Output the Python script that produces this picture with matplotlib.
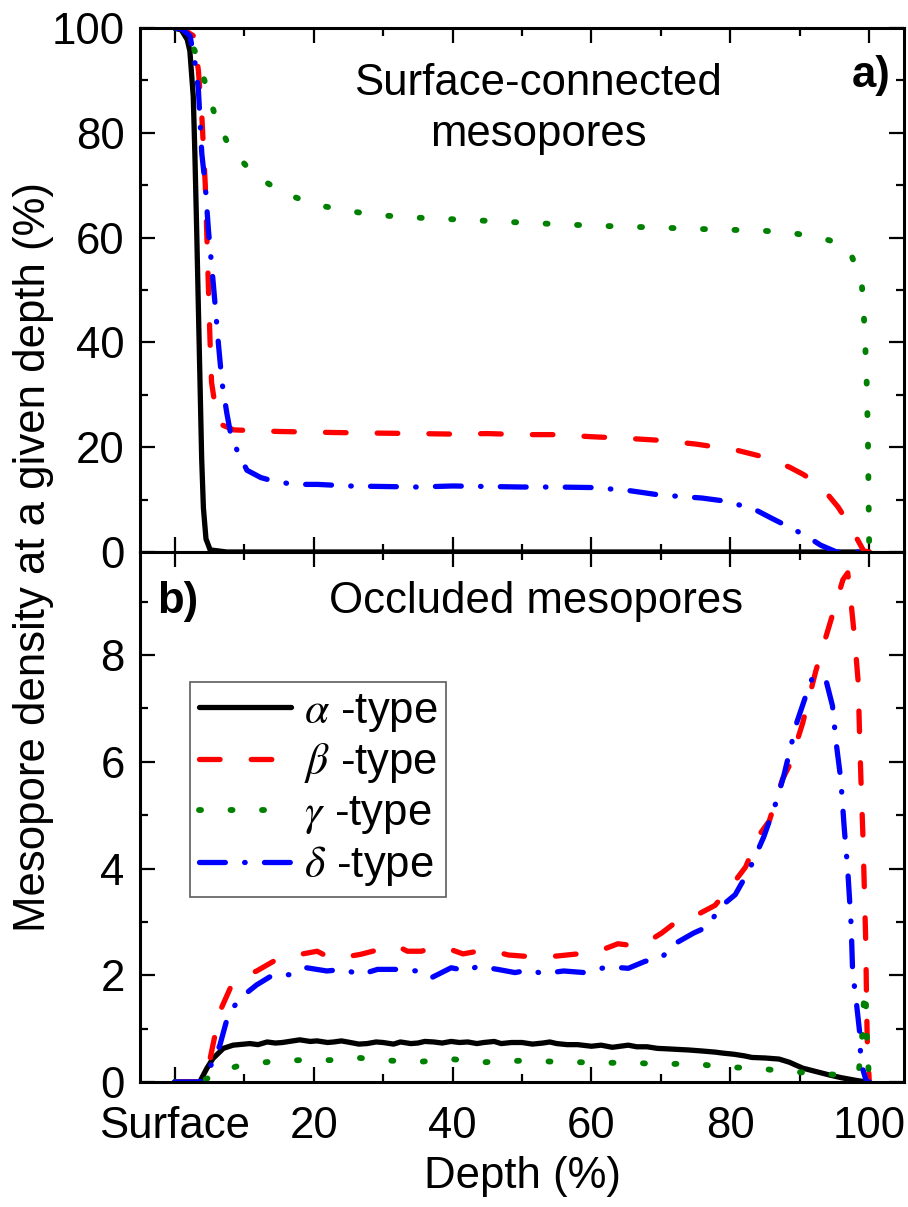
import matplotlib
matplotlib.use("Agg")
import matplotlib.pyplot as plt
from matplotlib.ticker import MultipleLocator, FixedLocator, FixedFormatter

plt.rcParams['font.family'] = ['Liberation Sans', 'DejaVu Sans']
plt.rcParams['mathtext.fontset'] = 'stix'

# ---------------- data: top panel (surface-connected) ----------------
top_alpha_x = [0, 0.97, 1.8, 2.18, 2.67, 2.9, 3.16, 3.4, 3.64, 3.88, 4.13, 4.5, 5.1, 7.5, 20, 40, 60, 80, 100]
top_alpha_y = [100, 99.6, 97.8, 95.6, 86.9, 76, 61.5, 46.9, 32.4, 17.8, 8.4, 2.5, 0.4, 0, 0, 0, 0, 0, 0]

top_beta_x = [0, 1.2, 2.7, 3.4, 3.9, 4.4, 4.6, 4.85, 5.1, 5.3, 5.8, 6.55, 8.5, 15, 23, 28.5, 35, 40, 45, 50,
              55, 60, 65, 70, 75, 80.7, 84.9, 88.5, 90.5, 92.6, 94, 95.5, 97, 98, 99.2, 100]
top_beta_y = [100, 99.8, 98.5, 92, 83.3, 70, 61.5, 50.5, 39.6, 32.4, 28, 24.4, 23.3, 23, 22.8, 22.7, 22.6, 22.5, 22.6, 22.4,
              22.4, 22, 21.7, 21.3, 20.6, 19.5, 18.1, 16.2, 14.8, 13, 11, 8.6, 5.5, 3.1, 0.2, 0]

top_gamma_x = [0, 1.5, 2.9, 4.4, 5.8, 7.8, 11.4, 15.8, 20.6, 25, 29, 35, 40, 45, 51, 60, 70, 79, 83.6, 88.3,
               92.9, 95.5, 97.2, 98.9, 99.2, 99.4, 99.6, 99.7, 99.8, 99.85, 99.9, 99.95, 100]
top_gamma_y = [100, 99.5, 95.6, 89.5, 83.3, 77.5, 72, 68.4, 66.2, 65.1, 64.3, 63.8, 63.5, 63.2, 62.8, 62.3, 61.9, 61.5, 61.4, 61,
               60, 59, 57.4, 51.6, 45.7, 40, 34, 28, 22.4, 16.6, 10.8, 4.6, 0]

top_delta_x = [0, 1, 2.2, 2.9, 3.4, 3.9, 4.4, 4.85, 5.6, 6.3, 6.8, 7.5, 8, 9, 10.4, 12.4, 14.3, 17.2, 20.6, 25,
               30, 35, 40, 45, 50, 55, 60, 65, 69.7, 75.9, 79.3, 83.4, 86, 88.7, 91, 93, 95.3, 100]
top_delta_y = [100, 99.8, 98.5, 93.5, 88.4, 76, 70, 61.5, 50.5, 39.6, 32.4, 26.5, 22.9, 19.3, 15.6, 14.2, 13.5, 12.9, 12.9, 12.6,
               12.5, 12.4, 12.6, 12.5, 12.4, 12.4, 12.3, 11.8, 10.9, 10.3, 9.7, 8.2, 6.4, 4.6, 3, 1.3, 0, 0]

# ---------------- data: bottom panel (occluded) ----------------
bot_alpha_x = [0, 3.6, 4.6, 5.5, 7, 8.4, 10.8, 12, 13.3, 14.5, 15.5, 17, 18, 19.5, 20.5, 22, 22.9, 24, 25.3, 26.5,
               27.7, 29, 30, 31.5, 32.5, 34, 35, 36, 37.3, 38.5, 39.8, 41, 42.2, 43.5, 44.5, 46, 47, 48.5, 50, 51.5,
               53, 54, 55, 56.5, 58, 60, 61.4, 63, 65.3, 66.5, 68, 69.5, 71.1, 72.5, 74, 76, 77.8, 79, 80.5, 82,
               83.1, 85, 87, 88.5, 90.4, 92.5, 94.3, 96, 98.1, 99.6, 100]
bot_alpha_y = [0, 0, 0.25, 0.44, 0.63, 0.69, 0.72, 0.7, 0.75, 0.73, 0.74, 0.77, 0.79, 0.76, 0.77, 0.74, 0.75, 0.77, 0.74, 0.71,
               0.72, 0.75, 0.74, 0.71, 0.75, 0.72, 0.73, 0.76, 0.75, 0.73, 0.76, 0.74, 0.75, 0.72, 0.74, 0.76, 0.72, 0.74, 0.74, 0.71,
               0.73, 0.75, 0.72, 0.7, 0.7, 0.67, 0.69, 0.65, 0.69, 0.66, 0.66, 0.63, 0.62, 0.61, 0.6, 0.58, 0.56, 0.54, 0.52, 0.49,
               0.46, 0.45, 0.43, 0.37, 0.26, 0.19, 0.13, 0.08, 0.03, 0, 0]

bot_beta_x = [0, 3.6, 4.5, 5.1, 5.8, 6.7, 8.2, 10, 11.8, 14.2, 16, 18, 20.5, 22, 23.9, 26.7, 28.5, 30.6, 32, 33.5,
              35.5, 37.3, 39.8, 41.5, 43.6, 46, 48, 50, 52, 55, 58, 60, 62, 63.8, 65.7, 68, 70.1, 72, 74, 75.9,
              77.8, 79, 80.7, 82.2, 84.1, 85.6, 87.5, 88.5, 90.4, 92.3, 93.8, 94.7, 96.2, 96.9, 97.4, 97.9, 98.4, 98.6, 98.8, 99.1,
              99.3, 99.5, 99.6, 99.7, 100]
bot_beta_y = [0, 0, 0.2, 0.44, 0.88, 1.38, 1.82, 1.98, 2.08, 2.26, 2.3, 2.39, 2.45, 2.35, 2.33, 2.39, 2.45, 2.52, 2.55, 2.45,
              2.45, 2.52, 2.48, 2.4, 2.45, 2.45, 2.38, 2.36, 2.34, 2.36, 2.4, 2.42, 2.5, 2.59, 2.56, 2.62, 2.79, 2.98, 3.05, 3.18,
              3.31, 3.5, 3.77, 4.03, 4.62, 4.89, 5.67, 5.93, 6.72, 7.7, 8.36, 8.75, 9.41, 9.54, 8.95, 8.3, 7.5, 6.52, 5.67, 4.56,
              3.57, 2.59, 1.6, 0.82, 0]

bot_gamma_x = [0, 3.6, 5.1, 7, 9.4, 13.7, 18, 22.4, 26.7, 31.1, 35.4, 39.8, 44.3, 50, 55, 61.9, 66.2, 70.1, 74.4, 79,
               83.6, 88, 92.6, 96.9, 98.5, 99.0, 99.3, 99.5, 99.6, 99.8, 100]
bot_gamma_y = [0, 0, 0.09, 0.22, 0.31, 0.38, 0.41, 0.41, 0.45, 0.4, 0.38, 0.43, 0.37, 0.4, 0.38, 0.36, 0.36, 0.33, 0.35, 0.28,
               0.26, 0.2, 0.16, 0.12, 0.2, 0.9, 1.74, 1.6, 1.0, 0.43, 0]

bot_delta_x = [0, 3.6, 4.5, 5.5, 6.5, 7.7, 9.4, 11.8, 14.2, 16.6, 19, 21.9, 24.3, 26.7, 29.2, 32, 34.9, 36.9, 39.8, 42.2,
               43.6, 46.5, 49, 51, 53, 56, 59, 62.4, 65.3, 67.7, 70.1, 72, 74.7, 76.9, 78.3, 80.7, 82.7, 84.8, 86.5, 87.7,
               88.9, 89.6, 90.9, 91.8, 93, 93.8, 94.7, 95.2, 95.9, 96.4, 96.9, 97.4, 97.6, 98.1, 98.6, 98.8, 99.6, 100]
bot_delta_y = [0, 0, 0.15, 0.38, 0.69, 1.26, 1.57, 1.82, 2.01, 2.01, 2.14, 2.08, 2.11, 2.01, 2.11, 2.11, 2.08, 1.95, 2.14, 2.08,
               2.17, 2.11, 2.05, 2.1, 2.03, 2.08, 2.05, 2.16, 2.13, 2.26, 2.33, 2.59, 2.79, 2.92, 3.25, 3.51, 3.97, 4.59, 5.21, 5.74,
               6.39, 6.75, 7.25, 7.57, 7.6, 7.51, 7.05, 6.39, 5.67, 4.75, 3.97, 2.92, 2.07, 1.54, 0.95, 0.36, 0, 0]

labels = [r'$\alpha$ -type', r'$\beta$ -type', r'$\gamma$ -type', r'$\delta$ -type']
x_tick_labels = ['Surface', '20', '40', '60', '80', '100']

# ---------------- styles ----------------
FS = 31.5
LW = 3.8
styles = [
    dict(color='black', lw=LW, linestyle='-', solid_capstyle='round'),
    dict(color='#ff0000', lw=LW, dashes=(3.9, 5.9), dash_capstyle='round'),
    dict(color='#008000', lw=4.2, dashes=(0.35, 5.05), dash_capstyle='round'),
    dict(color='#0000ff', lw=LW, dashes=(4.9, 3.65, 0.1, 3.65), dash_capstyle='round'),
]

fig = plt.figure(figsize=(9.08, 12.07), dpi=100)
L, R = 140 / 908, 904 / 908
top_y0 = 1 - 552 / 1207
top_y1 = 1 - 28 / 1207
bot_y0 = 1 - 1082 / 1207
ax1 = fig.add_axes([L, top_y0, R - L, top_y1 - top_y0])
ax2 = fig.add_axes([L, bot_y0, R - L, top_y0 - bot_y0])

top_data = [(top_alpha_x, top_alpha_y), (top_beta_x, top_beta_y),
            (top_gamma_x, top_gamma_y), (top_delta_x, top_delta_y)]
bot_data = [(bot_alpha_x, bot_alpha_y), (bot_beta_x, bot_beta_y),
            (bot_gamma_x, bot_gamma_y), (bot_delta_x, bot_delta_y)]

for (x, y), st in zip(top_data, styles):
    ax1.plot(x, y, **st)
handles = []
for (x, y), st, lab in zip(bot_data, styles, labels):
    h, = ax2.plot(x, y, label=lab, **st)
    handles.append(h)

for ax in (ax1, ax2):
    ax.set_xlim(-5, 105)
    ax.xaxis.set_major_locator(FixedLocator([0, 20, 40, 60, 80, 100]))
    ax.xaxis.set_minor_locator(FixedLocator([10, 30, 50, 70, 90]))
    ax.tick_params(which='both', direction='in', top=True, right=True, width=1.6, labelsize=FS)
    ax.tick_params(which='major', length=11)
    ax.tick_params(which='minor', length=6)
    ax.tick_params(axis='y', pad=11)
    for sp in ax.spines.values():
        sp.set_linewidth(2.2)

ax1.set_ylim(0, 100)
ax1.yaxis.set_major_locator(MultipleLocator(20))
ax1.yaxis.set_minor_locator(MultipleLocator(10))
ax1.tick_params(axis='x', labelbottom=False)

ax2.set_ylim(0, 9.93)
ax2.yaxis.set_major_locator(FixedLocator([0, 2, 4, 6, 8]))
ax2.yaxis.set_minor_locator(FixedLocator([1, 3, 5, 7, 9]))
ax2.xaxis.set_major_formatter(FixedFormatter(x_tick_labels))
ax2.tick_params(axis='x', pad=17)
ax2.set_xlabel('Depth (%)', fontsize=FS, labelpad=7)

fig.text(34 / 908, 1 - 557 / 1207, 'Mesopore density at a given depth (%)',
         rotation=90, ha='center', va='center', fontsize=FS)

ax1.text(52.3, 84.5, 'Surface-connected\nmesopores', ha='center', va='center',
         fontsize=FS, linespacing=1.3)
ax1.text(103, 91, 'a)', ha='right', va='center', fontsize=FS, fontweight='bold')
ax2.text(-2.5, 9.0, 'b)', ha='left', va='center', fontsize=FS, fontweight='bold')
ax2.text(52, 9.0, 'Occluded mesopores', ha='center', va='center', fontsize=FS)

leg = ax2.legend(handles=handles, loc='upper left', bbox_to_anchor=(0.0654, 0.755),
                 borderaxespad=0, fontsize=FS, frameon=True, fancybox=False,
                 handlelength=2.1, handletextpad=0.3, labelspacing=0.18, borderpad=0.2)
leg.get_frame().set_edgecolor('#333333')
leg.get_frame().set_linewidth(1.2)

fig.savefig('out.png', dpi=100)
